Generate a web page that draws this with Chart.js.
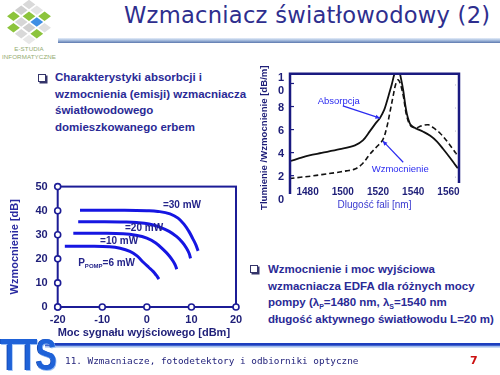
<!DOCTYPE html>
<html><head><meta charset="utf-8">
<script src="https://cdn.jsdelivr.net/npm/chart.js@4.4.1/dist/chart.umd.min.js"></script>
<style>
html,body{margin:0;padding:0;background:#fff;}
body{width:500px;height:375px;position:relative;overflow:hidden;font-family:"Liberation Sans",Arial,sans-serif;}
.abs{position:absolute;}
#title{left:124px;top:2px;font-family:"DejaVu Sans",Verdana,sans-serif;font-size:22.6px;color:#2e2e8e;white-space:nowrap;letter-spacing:0.25px;}
#rule{left:58px;top:38px;width:442px;height:5px;background:linear-gradient(#e6eef9,#a9bfe0 45%,#5b78ae);}
.bullet{color:#2a2a96;font-weight:bold;font-size:11.5px;line-height:16.5px;white-space:nowrap;}
.bullet .sb{font-size:7px;position:relative;top:3px;line-height:0;}
.box{position:absolute;width:6px;height:6px;border:1px solid #34346a;background:#fff;box-shadow:1.5px 1.5px 0 #34346a;}
#logoTiles{left:8px;top:1px;width:42px;height:42px;transform:scaleY(0.75) rotate(45deg);display:grid;grid-template-columns:repeat(4,9px);grid-gap:2px;}
#logoTiles div{width:9px;height:9px;}
.logoTxt{left:0px;width:58px;text-align:center;font-size:6.2px;color:#93ac72;letter-spacing:0.1px;}
#footRule{left:45px;top:343px;width:455px;height:5px;background:linear-gradient(#1d3fbf,#1d3fbf 45%,#8fb0ea 60%,#dfe9f8);}
#tts{left:0px;top:330px;font-family:"Liberation Sans",Arial,sans-serif;font-weight:bold;font-size:44px;color:#1f62d8;transform:scaleX(0.72);transform-origin:left top;letter-spacing:-2px;text-shadow:1px 1px 0 #9cc0f5,-1px 0 0 #0e3ea8;}
#footTxt{left:65px;top:355px;font-family:"DejaVu Sans Mono",monospace;font-size:9.4px;color:#1e1e78;white-space:nowrap;}
#pageNo{left:470px;top:354px;font-family:"DejaVu Sans",sans-serif;font-weight:bold;font-size:11px;color:#cc1010;}
#leftWrap{left:0;top:170px;width:250px;height:175px;}
#rightWrap{left:250px;top:55px;width:250px;height:160px;}
</style>
</head>
<body>
<div id="logoTiles" class="abs"></div>
<div class="abs logoTxt" style="top:45px">E-STUDIA</div>
<div class="abs logoTxt" style="top:53px">INFORMATYCZNE</div>
<div id="title" class="abs">Wzmacniacz światłowodowy (2)</div>
<div id="rule" class="abs"></div>

<div class="box" style="left:38px;top:74px"></div>
<div class="abs bullet" style="left:55px;top:69px">Charakterystyki absorbcji i<br>wzmocnienia (emisji) wzmacniacza<br>światłowodowego<br>domieszkowanego erbem</div>

<div class="box" style="left:250px;top:265px"></div>
<div class="abs bullet" style="left:268px;top:261px">Wzmocnienie i moc wyjściowa<br>wzmacniacza EDFA dla różnych mocy<br>pompy (λ<span class="sb">P</span>=1480 nm, λ<span class="sb">S</span>=1540 nm<br>długość aktywnego światłowodu L=20 m)</div>

<div id="leftWrap" class="abs"><canvas id="cL" width="250" height="175"></canvas></div>
<div id="rightWrap" class="abs"><canvas id="cR" width="250" height="160"></canvas></div>

<div id="footRule" class="abs"></div>
<div id="tts" class="abs">TTS</div>
<div id="footTxt" class="abs">11. Wzmacniacze, fotodetektory i odbiorniki optyczne</div>
<div id="pageNo" class="abs">7</div>

<script>
// ---------- logo tiles (decoration) ----------
const tileColors = ['#d9d9d9','#e4e4e4','#8cc43c','#ffffff','#cfcfcf','#8cc43c','#3f8fe4','#e0e0e0','#8cc43c','#d6d6d6','#cfcfcf','#8cc43c','#ffffff','#8cc43c','#d9d9d9','#e8e8e8'];
const lt = document.getElementById('logoTiles');
tileColors.forEach(c => { const d = document.createElement('div'); d.style.background = c; lt.appendChild(d); });

// ---------- DATA: left chart (gain vs output power) ----------
const powerTicks = [-20, -10, 0, 10, 20];
const gainTicks = [0, 10, 20, 30, 40, 50];
const pump30mW = [[-15,40.2],[-10,40.2],[-5,40.2],[0,40.0],[2.5,39.7],[5.2,38.7],[7,36.9],[8.4,34.2],[9.4,31.5],[10.3,28.4],[11,25.8],[11.5,23.3]];
const pump20mW = [[-15.4,35.4],[-10,35.4],[-5,35.3],[-2.3,35.1],[0.5,34.5],[2.9,33.2],[5,31.4],[6.7,29.2],[8,26.8],[8.9,24.4],[9.5,22.2],[9.8,20.2]];
const pump10mW = [[-16.5,30.6],[-10,30.6],[-5.3,30.4],[-2.5,29.8],[0,28.6],[2,26.6],[3.7,23.8],[5,21.3],[5.9,19.0],[6.4,17.3],[6.7,15.7]];
const pump6mW = [[-18.4,25.2],[-13,25.2],[-8.3,25.0],[-6,24.4],[-3.8,23.1],[-2.2,21.2],[-0.8,18.6],[0.4,16.5],[1.4,14.8],[2.1,13.2],[2.7,11.6]];
const pumpLabels = [
  {x:3.6, y:42.3, text:'=30 mW'},
  {x:-4.9, y:32.9, text:'=20 mW'},
  {x:-10.5, y:27.2, text:'=10 mW'},
  {x:-15.4, y:18.2, text:'P', sub:'POMP', rest:'=6 mW'}
];

// ---------- DATA: right chart (absorption / gain spectra) ----------
const wavelengthTicks = [1480, 1500, 1520, 1540, 1560];
const dbTicks = [0, 2, 4, 6, 8, 10];
const absorption = [[1469.7,3.33],[1475.4,3.6],[1481,3.85],[1488,4.06],[1498.3,4.38],[1506.9,4.72],[1511.4,5.15],[1515.4,5.95],[1518.5,6.6],[1521.1,7.1],[1523.5,7.8],[1525,8.5],[1526.5,9.3],[1527.8,10.0],[1529.3,10.9],[1530.5,11.4],[1531.8,11.3],[1532.8,10.7],[1534.3,9.5],[1535.5,8.2],[1536.4,7.45],[1537.4,6.9],[1538.3,6.55],[1540,6.3],[1542.1,6.15],[1545.7,5.9],[1549.7,5.55],[1553.5,5.05],[1557,4.4],[1561.1,3.6],[1563.5,3.1],[1565.3,2.73]];
const gain = [[1469.7,1.84],[1476,1.95],[1482,2.05],[1488,2.18],[1496,2.35],[1502,2.5],[1506.9,2.66],[1511,3.1],[1515.4,3.95],[1519,4.55],[1522.7,5.2],[1525,6.3],[1526.9,7.7],[1528.6,9.0],[1530,10.0],[1531.4,10.4],[1532.6,10.1],[1533.5,9.6],[1534.5,8.9],[1535.3,8.1],[1536,7.45],[1537,6.9],[1537.9,6.55],[1539.5,6.3],[1542.1,6.25],[1544,6.38],[1545.9,6.47],[1548.7,6.5],[1551.4,6.25],[1555.4,5.75],[1559.3,5.05],[1562.5,4.4],[1565.3,3.8]];
const spectrumNotes = [
  {text:'Absorpcja', x:1485.7, y:8.5, fromX:1500, fromY:8.14, toX:1521.1, toY:7.08},
  {text:'Wzmocnienie', x:1532.6, y:2.62, fromX:1534.3, fromY:3.25, toX:1522.7, toY:5.1}
];
const spectrumYTitle = 'Tlumienie /Wzmocnienie [dB/m]';

const toXY = arr => arr.map(p => ({x:p[0], y:p[1]}));
const NAVY = '#1e1e78';
const FRAME = '#1c1c96';
const CURVE = '#1616e2';
const FONT = '"Liberation Sans", Arial, sans-serif';

// ---------- plugin: left chart frame, circle ticks, labels ----------
const leftDecor = {
  id:'leftDecor',
  afterDatasetsDraw(chart){
    const {ctx, chartArea:a, scales:{x, y}} = chart;
    ctx.save();
    ctx.strokeStyle = FRAME; ctx.lineWidth = 2;
    ctx.strokeRect(a.left, a.top, a.right - a.left, a.bottom - a.top);
    const circle = (px, py) => { ctx.beginPath(); ctx.arc(px, py, 3, 0, Math.PI*2); ctx.fillStyle = '#fff'; ctx.fill(); ctx.lineWidth = 1.6; ctx.stroke(); };
    gainTicks.forEach(v => circle(a.left, y.getPixelForValue(v)));
    powerTicks.forEach(v => circle(x.getPixelForValue(v), a.bottom));
    ctx.fillStyle = '#24248a'; ctx.textBaseline = 'middle'; ctx.textAlign = 'left';
    pumpLabels.forEach(l => {
      let px = x.getPixelForValue(l.x); const py = y.getPixelForValue(l.y);
      ctx.font = 'bold 10px ' + FONT;
      ctx.fillText(l.text, px, py);
      if (l.sub) {
        px += ctx.measureText(l.text).width;
        ctx.font = 'bold 6px ' + FONT;
        ctx.fillText(l.sub, px, py + 3);
        px += ctx.measureText(l.sub).width;
        ctx.font = 'bold 10px ' + FONT;
        ctx.fillText(l.rest, px, py);
      }
    });
    ctx.restore();
  }
};

const lineDs = (arr) => ({data: toXY(arr), borderColor: CURVE, borderWidth: 3, pointRadius: 0, tension: 0.4, fill: false});

new Chart(document.getElementById('cL'), {
  type:'line',
  data:{datasets:[lineDs(pump30mW), lineDs(pump20mW), lineDs(pump10mW), lineDs(pump6mW)]},
  options:{
    responsive:false, animation:false, devicePixelRatio:1,
    layout:{padding:{top:14, right:14, bottom:0, left:0}},
    plugins:{legend:{display:false}, tooltip:{enabled:false}},
    scales:{
      x:{type:'linear', min:-20, max:20,
        afterBuildTicks: s => { s.ticks = powerTicks.map(v => ({value:v})); },
        afterFit: s => { s.height = 38; },
        grid:{display:false, drawTicks:false}, border:{display:false},
        ticks:{color:NAVY, font:{family:FONT, size:11, weight:'bold'}, padding:6, maxRotation:0, autoSkip:false, callback: v => String(v)},
        title:{display:true, text:'Moc sygnału wyjściowego [dBm]', align:'start', color:NAVY, font:{family:FONT, size:11, weight:'bold'}, padding:{top:0, bottom:5}}
      },
      y:{type:'linear', min:0, max:50,
        afterBuildTicks: s => { s.ticks = gainTicks.map(v => ({value:v})); },
        afterFit: s => { s.width = 57.7; },
        grid:{display:false, drawTicks:false}, border:{display:false},
        ticks:{color:NAVY, font:{family:FONT, size:11, weight:'bold'}, padding:10, autoSkip:false, callback: v => String(v)},
        title:{display:true, text:'Wzmocnienie [dB]', color:'#2a2aa0', font:{family:FONT, size:11, weight:'bold'}, padding:{top:8, bottom:0}}
      }
    }
  },
  plugins:[leftDecor]
});

// ---------- plugin: right chart frame, inner ticks, annotations, y title ----------
const rightDecor = {
  id:'rightDecor',
  afterDatasetsDraw(chart){
    const {ctx, chartArea:a, scales:{x, y}} = chart;
    ctx.save();
    ctx.strokeStyle = '#1a1a80'; ctx.lineWidth = 2.5;
    ctx.beginPath();
    ctx.moveTo(a.left, a.bottom + 11); ctx.lineTo(a.left, a.top); ctx.lineTo(a.right, a.top); ctx.lineTo(a.right, a.bottom);
    ctx.stroke();
    ctx.lineWidth = 1.2;
    dbTicks.filter(v => v > 0).forEach(v => { const py = y.getPixelForValue(v) - 1; ctx.beginPath(); ctx.moveTo(a.left, py); ctx.lineTo(a.left + 4, py); ctx.stroke(); });
    ctx.fillStyle = '#b8b8c8';
    dbTicks.filter(v => v > 0).forEach(v => { ctx.fillRect(a.right - 4, y.getPixelForValue(v), 1, 1); });
    // annotations
    ctx.strokeStyle = '#2b2bf0'; ctx.fillStyle = '#2b2bf0'; ctx.lineWidth = 1.2;
    spectrumNotes.forEach(n => {
      const x0 = x.getPixelForValue(n.fromX), y0 = y.getPixelForValue(n.fromY);
      const x1 = x.getPixelForValue(n.toX), y1 = y.getPixelForValue(n.toY);
      ctx.beginPath(); ctx.moveTo(x0, y0); ctx.lineTo(x1, y1); ctx.stroke();
      const ang = Math.atan2(y1 - y0, x1 - x0);
      ctx.beginPath(); ctx.moveTo(x1, y1);
      ctx.lineTo(x1 - 5*Math.cos(ang - 0.45), y1 - 5*Math.sin(ang - 0.45));
      ctx.lineTo(x1 - 5*Math.cos(ang + 0.45), y1 - 5*Math.sin(ang + 0.45));
      ctx.closePath(); ctx.fill();
      ctx.font = '9.5px ' + FONT;
      ctx.textAlign = 'left'; ctx.textBaseline = 'middle';
      const tw = ctx.measureText(n.text).width;
      const tx = n.text === 'Wzmocnienie' ? x.getPixelForValue(n.x) - tw/2 : x.getPixelForValue(n.x);
      ctx.fillText(n.text, tx, y.getPixelForValue(n.y));
    });
    // rotated y-axis title, centred between the frame top and the 0 label
    ctx.fillStyle = NAVY;
    ctx.font = 'bold 9.6px ' + FONT;
    ctx.textAlign = 'center'; ctx.textBaseline = 'middle';
    ctx.translate(14, (a.top + y.getPixelForValue(0)) / 2 + 1);
    ctx.rotate(-Math.PI / 2);
    ctx.fillText(spectrumYTitle, 0, 0);
    ctx.restore();
  }
};

new Chart(document.getElementById('cR'), {
  type:'line',
  data:{datasets:[
    {data: toXY(absorption), borderColor:'#111', borderWidth:1.8, pointRadius:0, tension:0.35, fill:false},
    {data: toXY(gain), borderColor:'#111', borderWidth:1.6, borderDash:[5,3], pointRadius:0, tension:0.35, fill:false}
  ]},
  options:{
    responsive:false, animation:false, devicePixelRatio:1,
    layout:{padding:{top:7, right:41, bottom:0, left:0}},
    plugins:{legend:{display:false}, tooltip:{enabled:false}},
    scales:{
      x:{type:'linear', min:1470, max:1566,
        afterBuildTicks: s => { s.ticks = wavelengthTicks.map(v => ({value:v})); },
        afterFit: s => { s.height = 32; },
        grid:{display:false, drawTicks:false}, border:{display:false},
        ticks:{color:NAVY, font:{family:FONT, size:10, weight:'bold'}, padding:3, maxRotation:0, autoSkip:false, callback: v => String(v)},
        title:{display:true, text:'Dlugość fali [nm]', color:'#3a3ad0', font:{family:FONT, size:10}, padding:{top:0, bottom:4}}
      },
      y:{type:'linear', min:1.45, max:10.94,
        afterBuildTicks: s => { s.ticks = dbTicks.map(v => ({value:v})); },
        afterFit: s => { s.width = 40; },
        grid:{display:false, drawTicks:false}, border:{display:false},
        ticks:{color:NAVY, font:{family:FONT, size:11, weight:'bold', lineHeight:1.15}, padding:6, autoSkip:false,
          callback: v => v === 10 ? ['1','0'] : String(v)}
      }
    }
  },
  plugins:[rightDecor]
});
</script>
</body></html>
